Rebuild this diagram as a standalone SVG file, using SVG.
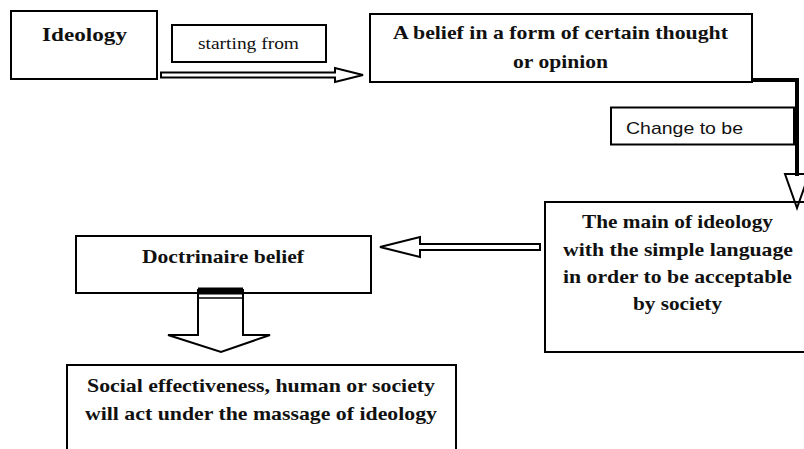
<svg xmlns="http://www.w3.org/2000/svg" width="804" height="449" viewBox="0 0 804 449">
<style>
.box{fill:#fff;stroke:#000;stroke-width:2}
.b{font-family:"Liberation Serif","Times New Roman",serif;font-weight:bold;font-size:19px;fill:#111}
.r{font-family:"Liberation Serif","Times New Roman",serif;font-size:17px;fill:#111}
.s{font-family:"Liberation Sans",Arial,sans-serif;font-size:17px;fill:#111}
.arr{fill:#fff;stroke:#000;stroke-width:2;stroke-linejoin:miter}
</style>
<rect width="804" height="449" fill="#fff"/>
<g id="ideology">
<rect class="box" x="11" y="11" width="146" height="68"/>
<text class="b" x="42" y="41" textLength="85" lengthAdjust="spacingAndGlyphs">Ideology</text>
</g>
<g id="starting-from">
<rect class="box" x="172" y="25" width="154" height="37"/>
<text class="r" x="198" y="49" textLength="101" lengthAdjust="spacingAndGlyphs">starting from</text>
</g>
<g id="belief">
<rect class="box" x="370" y="14" width="382" height="68"/>
<text class="b" x="393" y="39" textLength="335" lengthAdjust="spacingAndGlyphs">A belief in a form of certain thought</text>
<text class="b" x="513" y="68" textLength="95" lengthAdjust="spacingAndGlyphs">or opinion</text>
</g>
<g id="change-to-be">
<rect class="box" x="611" y="107.5" width="183" height="37"/>
<text class="s" x="626" y="134" textLength="117" lengthAdjust="spacingAndGlyphs">Change to be</text>
</g>
<g id="main-ideology">
<rect class="box" x="545" y="202" width="265" height="150"/>
<text class="b" x="582" y="228" textLength="191" lengthAdjust="spacingAndGlyphs">The main of ideology</text>
<text class="b" x="563" y="255.5" textLength="230" lengthAdjust="spacingAndGlyphs">with the simple language</text>
<text class="b" x="563" y="283" textLength="229" lengthAdjust="spacingAndGlyphs">in order to be acceptable</text>
<text class="b" x="633" y="310" textLength="89" lengthAdjust="spacingAndGlyphs">by society</text>
</g>
<g id="doctrinaire">
<rect class="box" x="76" y="236" width="295" height="57"/>
<text class="b" x="142" y="263" textLength="162" lengthAdjust="spacingAndGlyphs">Doctrinaire belief</text>
</g>
<g id="social">
<rect class="box" x="67" y="365" width="389" height="100"/>
<text class="b" x="87" y="392" textLength="348" lengthAdjust="spacingAndGlyphs">Social effectiveness, human or society</text>
<text class="b" x="85" y="420" textLength="352" lengthAdjust="spacingAndGlyphs">will act under the massage of ideology</text>
</g>
<g id="connectors">
<polygon class="arr" points="161,72.5 335,72.5 335,68 363,75 335,82 335,77.5 161,77.5"/>
<polyline points="752,80 797,80 797,176" fill="none" stroke="#000" stroke-width="4"/>
<polygon points="785,174 809,174 797,208" fill="none" stroke="#000" stroke-width="2"/>
<polygon class="arr" points="540,244 420,244 420,237 380,247 420,257 420,250 540,250"/>
<polygon class="arr" points="198,290 243,290 243,335 270,335 221,352 168,335 198,335"/>
<rect x="198" y="287.5" width="45" height="7" fill="#000"/>
<line x1="198" y1="298" x2="243" y2="298" stroke="#000" stroke-width="1.5"/>
</g>
</svg>
